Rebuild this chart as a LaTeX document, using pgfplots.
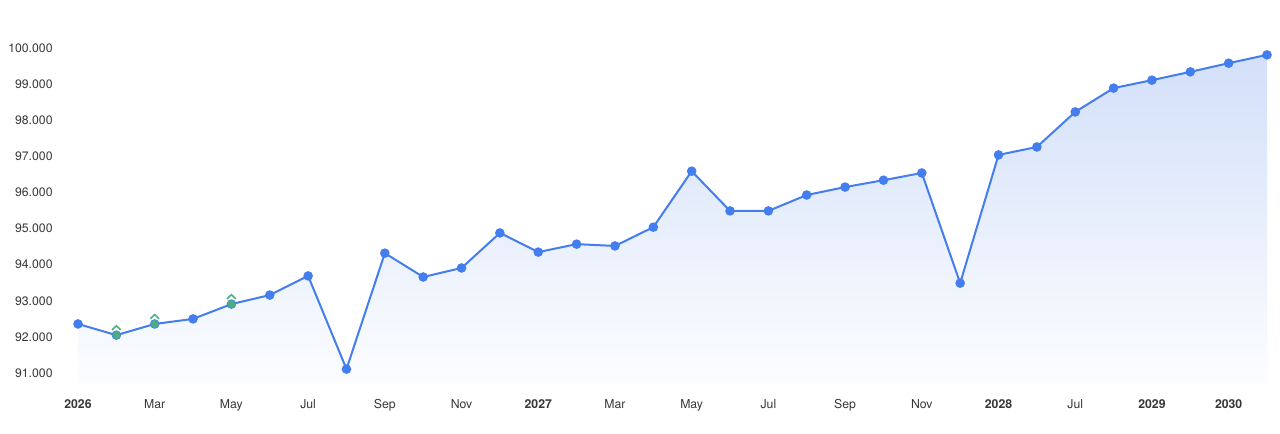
\documentclass[border=0pt]{standalone}
\usepackage{pgfplots}
\pgfplotsset{compat=1.18}
\usepackage{pgfplotstable}
\usepackage{fontspec}
\setmainfont{TeX Gyre Heros}
\definecolor{lineblue}{RGB}{68,125,238}
\definecolor{mkgreen}{RGB}{76,172,134}
\definecolor{filltop}{RGB}{211,224,249}
\definecolor{fillbot}{RGB}{252,253,255}
\definecolor{lbl}{RGB}{55,55,55}
\pgfdeclareplotmark{caret}{%
  \pgfpathmoveto{\pgfqpoint{-3.3pt}{3.9pt}}%
  \pgfpathlineto{\pgfqpoint{0pt}{7pt}}%
  \pgfpathlineto{\pgfqpoint{3.3pt}{3.9pt}}%
  \pgfusepathqstroke}
\pgfplotstableread{
x y
0 92.36
1 92.05
2 92.36
3 92.50
4 92.91
5 93.16
6 93.69
7 91.11
8 94.32
9 93.66
10 93.91
11 94.88
12 94.35
13 94.57
14 94.52
15 95.04
16 96.59
17 95.49
18 95.49
19 95.93
20 96.15
21 96.34
22 96.54
23 93.49
24 97.04
25 97.26
26 98.23
27 98.89
28 99.11
29 99.34
30 99.58
31 99.81
}\data
\pgfplotstableread{
x y
1 92.05
2 92.36
4 92.91
}\green
\begin{document}
\begin{tikzpicture}
\begin{axis}[
  scale only axis,
  width=891.75pt, height=261pt,
  xmin=0, xmax=31, ymin=90.67, ymax=100.305,
  axis line style={draw=none},
  tick style={draw=none},
  clip=false,
  ytick={91,92,93,94,95,96,97,98,99,100},
  yticklabels={91.000,92.000,93.000,94.000,95.000,96.000,97.000,98.000,99.000,100.000},
  yticklabel style={anchor=east, xshift=-15.5pt, font=\fontsize{9.2}{10}\selectfont, text=lbl},
  xtick={0,2,4,6,8,10,12,14,16,18,20,22,24,26,28,30},
  xticklabels={\textbf{2026},Mar,May,Jul,Sep,Nov,\textbf{2027},Mar,May,Jul,Sep,Nov,\textbf{2028},Jul,\textbf{2029},\textbf{2030}},
  xticklabel style={anchor=north, yshift=-7pt, text height=7pt, text depth=2pt, font=\fontsize{9.2}{10}\selectfont, text=lbl},
]
\addplot[draw=none, top color=filltop, bottom color=fillbot] table[x=x,y=y]{\data} -- (axis cs:31,90.67) -- (axis cs:0,90.67) -- cycle;
\addplot[lineblue, line width=1.5pt, mark=*, mark size=2.8pt, mark options={fill=lineblue, draw=none}] table[x=x,y=y]{\data};
\addplot[mkgreen, only marks, mark=*, mark size=2.8pt, mark options={fill=mkgreen, draw=none}] table[x=x,y=y]{\green};
\addplot[mkgreen, only marks, mark=caret, mark options={draw=mkgreen, line width=1.2pt}] table[x=x,y=y]{\green};
\end{axis}
\pgfresetboundingbox
\path[use as bounding box] (-58.5pt,-36.75pt) rectangle (901.5pt,288.75pt);
\end{tikzpicture}
\end{document}
